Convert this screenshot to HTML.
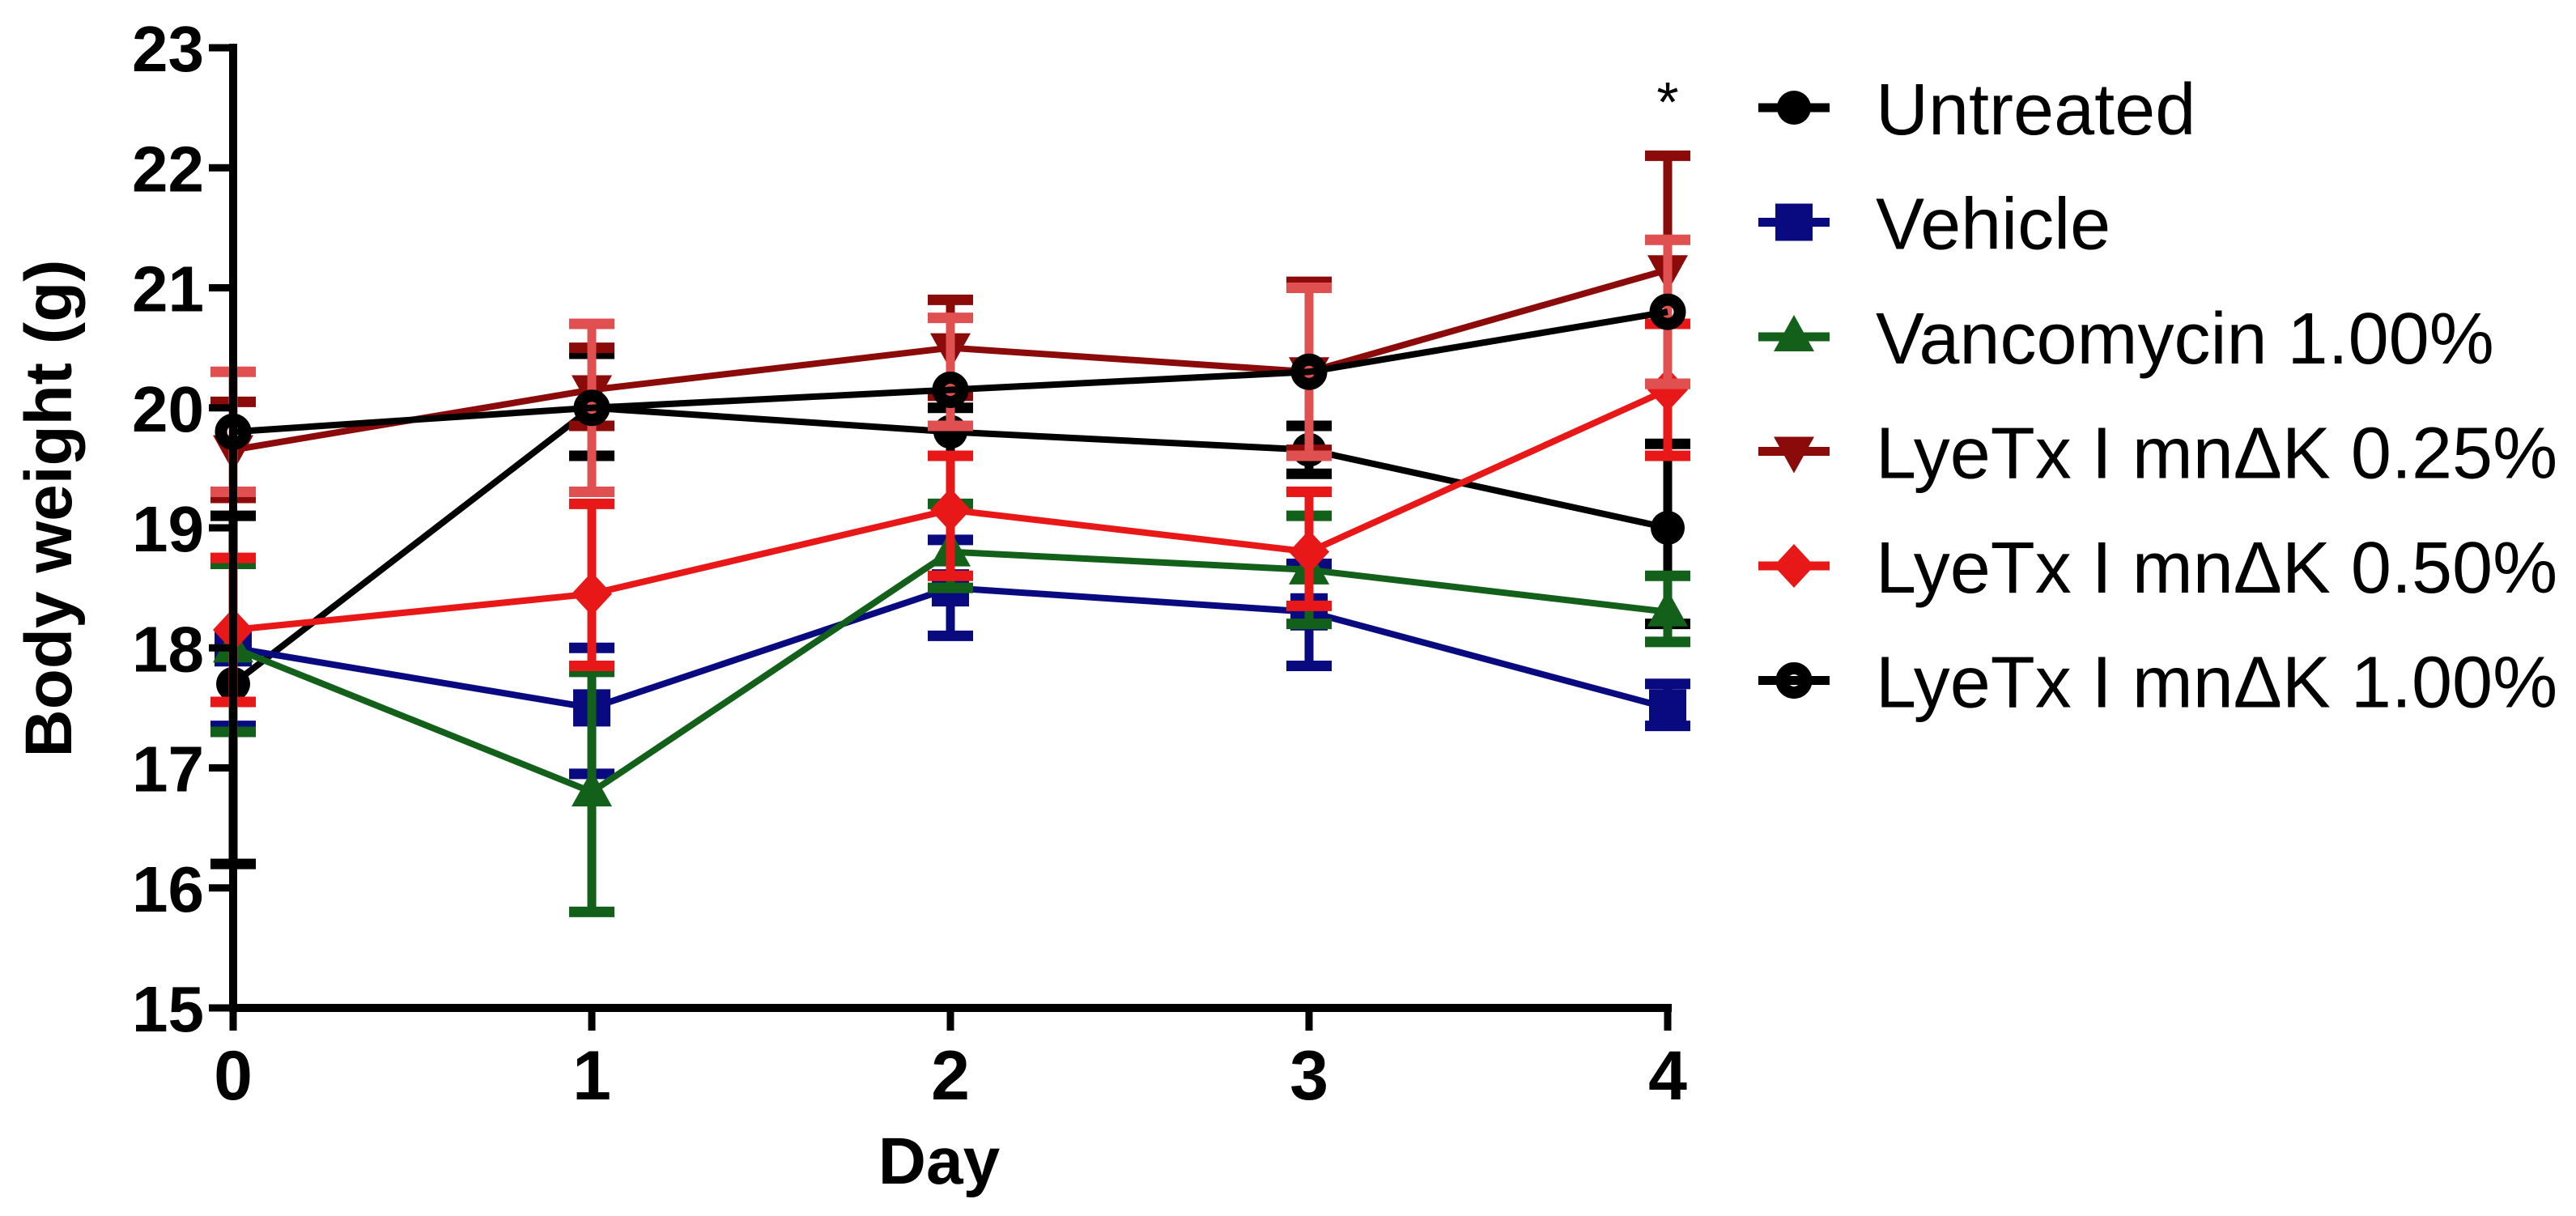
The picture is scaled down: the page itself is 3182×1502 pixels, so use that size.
<!DOCTYPE html>
<html><head><meta charset="utf-8"><style>
html,body{margin:0;padding:0;background:#fff;}
svg{display:block;font-family:"Liberation Sans",Arial,sans-serif;}
</style></head><body>
<svg id="chart" width="3182" height="1502" viewBox="0 0 3182 1502" xmlns="http://www.w3.org/2000/svg">
<g id="plot"></g>
<g id="axes"></g>
<g id="legend"></g>
<text transform="translate(88,628) rotate(-90)" text-anchor="middle" font-size="82" font-weight="bold">Body weight (g)</text>
<text x="1160" y="1462" text-anchor="middle" font-size="82" font-weight="bold">Day</text>
<text x="2060" y="150" text-anchor="middle" font-size="70">*</text>
</svg>
<script>
const days = [0,1,2,3,4];
const yTicks = [15,16,17,18,19,20,21,22,23];
const seriesNames = ["Untreated","Vehicle","Vancomycin 1.00%","LyeTx I mn\u0394K 0.25%","LyeTx I mn\u0394K 0.50%","LyeTx I mn\u0394K 1.00%"];
const untreated = [17.7,20.0,19.8,19.65,19.0];
const untreatedLo = [16.2,19.6,19.6,19.45,18.2];
const untreatedHi = [19.1,20.45,20.0,19.85,19.7];
const vehicle = [18.0,17.5,18.5,18.3,17.5];
const vehicleLo = [17.35,16.95,18.1,17.85,17.35];
const vehicleHi = [18.7,18.0,18.9,18.7,17.7];
const vanco = [18.0,16.8,18.8,18.65,18.3];
const vancoLo = [17.3,15.8,18.5,18.2,18.05];
const vancoHi = [18.7,17.8,19.2,19.1,18.6];
const lye025 = [19.65,20.15,20.5,20.3,21.15];
const lye025Lo = [19.25,19.85,20.1,19.65,20.2];
const lye025Hi = [20.05,20.5,20.9,21.05,22.1];
const lye050 = [18.15,18.45,19.15,18.8,20.15];
const lye050Lo = [17.55,17.85,18.6,18.35,19.6];
const lye050Hi = [18.75,19.2,19.6,19.3,20.7];
const lye100 = [19.8,20.0,20.15,20.3,20.8];
const lye100Lo = [19.3,19.3,19.85,19.6,20.2];
const lye100Hi = [20.3,20.7,20.75,21.0,21.4];

const NS="http://www.w3.org/2000/svg";
const X0=288, DX=443, Y15=1245, DY=148.25;
function xs(d){return X0+d*DX;}
function ys(v){return Y15-(v-15)*DY;}
function mk(tag,attrs,parent){const e=document.createElementNS(NS,tag);for(const k in attrs)e.setAttribute(k,attrs[k]);parent.appendChild(e);return e;}

const series=[
 {v:untreated,lo:untreatedLo,hi:untreatedHi,c:"#000",ec:"#000",m:"circle",key:"untreated"},
 {v:vehicle,lo:vehicleLo,hi:vehicleHi,c:"#0a0a80",ec:"#0a0a80",m:"square",key:"vehicle"},
 {v:vanco,lo:vancoLo,hi:vancoHi,c:"#12601a",ec:"#12601a",m:"tri",key:"vancomycin"},
 {v:lye025,lo:lye025Lo,hi:lye025Hi,c:"#8b0a0a",ec:"#8b0a0a",m:"itri",key:"lyetx-025"},
 {v:lye050,lo:lye050Lo,hi:lye050Hi,c:"#e81818",ec:"#e81818",m:"diamond",key:"lyetx-050"},
 {v:lye100,lo:lye100Lo,hi:lye100Hi,c:"#000",ec:"#e05050",m:"open",key:"lyetx-100"}
];
function marker(g,m,x,y,c){
  let e;
  if(m==="circle"){e=mk("circle",{cx:x,cy:y,r:21,fill:c},g);}
  else if(m==="square"){e=mk("rect",{x:x-23,y:y-23,width:46,height:46,fill:c},g);}
  else if(m==="tri"){e=mk("polygon",{points:`${x},${y-27} ${x+25},${y+18} ${x-25},${y+18}`,fill:c},g);}
  else if(m==="itri"){e=mk("polygon",{points:`${x},${y+27} ${x+25},${y-18} ${x-25},${y-18}`,fill:c},g);}
  else if(m==="diamond"){e=mk("polygon",{points:`${x},${y-27} ${x+25},${y} ${x},${y+27} ${x-25},${y}`,fill:c},g);}
  else {e=mk("circle",{cx:x,cy:y,r:15,fill:"none",stroke:c,"stroke-width":15},g);}
  return e;
}
const plot=document.getElementById("plot");
series.forEach((s,si)=>{
  const g=mk("g",{},plot);
  
  
  days.forEach((d,i)=>{
    const x=xs(d);
    const eb=mk("g",{},g);
    
    
    mk("line",{x1:x,x2:x,y1:ys(s.lo[i]),y2:ys(s.hi[i]),stroke:s.ec,"stroke-width":11},eb);
    mk("line",{x1:x-28,x2:x+28,y1:ys(s.lo[i]),y2:ys(s.lo[i]),stroke:s.ec,"stroke-width":13},eb);
    mk("line",{x1:x-28,x2:x+28,y1:ys(s.hi[i]),y2:ys(s.hi[i]),stroke:s.ec,"stroke-width":13},eb);
  });
  const pts=days.map((d,i)=>xs(d)+","+ys(s.v[i])).join(" ");
  const pl=mk("polyline",{points:pts,fill:"none",stroke:s.c,"stroke-width":8},g);
  
  
  days.forEach((d,i)=>{
    const p=marker(g,s.m,xs(d),ys(s.v[i]),s.c);
    
    
  });
});
const axes=document.getElementById("axes");
const ya=mk("line",{x1:X0,x2:X0,y1:ys(23)-5,y2:Y15+5,stroke:"#000","stroke-width":10},axes);


const xa=mk("line",{x1:X0-5,x2:xs(4)+5,y1:Y15,y2:Y15,stroke:"#000","stroke-width":10},axes);


yTicks.forEach(t=>{
  const y=ys(t);
  mk("line",{x1:X0-30,x2:X0,y1:y,y2:y,stroke:"#000","stroke-width":9},axes);
  const tx=mk("text",{x:252,y:y+29,"text-anchor":"end","font-size":80,"font-weight":"bold"},axes);
  tx.textContent=t;
  
  
});
days.forEach(d=>{
  const x=xs(d);
  mk("line",{x1:x,x2:x,y1:Y15,y2:Y15+28,stroke:"#000","stroke-width":9},axes);
  const tx=mk("text",{x:x,y:1358,"text-anchor":"middle","font-size":86,"font-weight":"bold"},axes);
  tx.textContent=d;
  
  
});
const legend=document.getElementById("legend");
series.forEach((s,i)=>{
  const y=133+i*141.5;
  const g=mk("g",{},legend);
  
  
  mk("line",{x1:2172,x2:2260,y1:y,y2:y,stroke:s.c,"stroke-width":11},g);
  marker(g,s.m,2216,y,s.c);
  const tx=mk("text",{x:2317,y:y+33,"font-size":90},g);
  tx.textContent=seriesNames[i];
});
</script>
</body></html>
